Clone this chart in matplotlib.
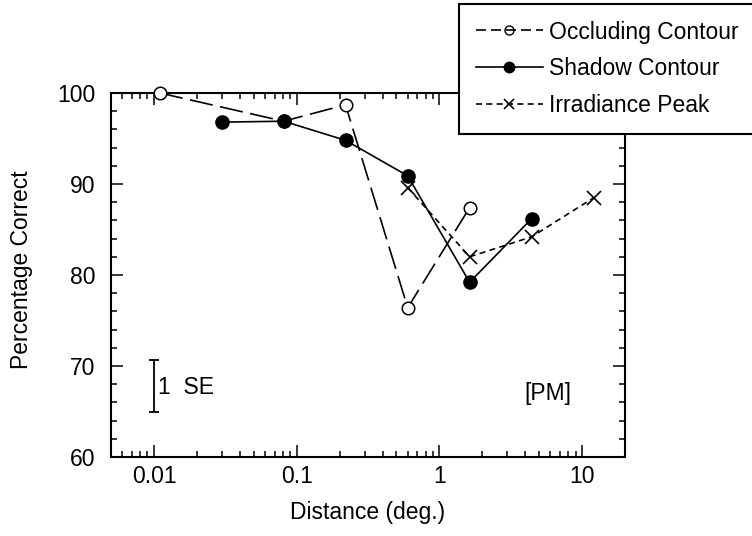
import matplotlib
matplotlib.use("Agg")
import matplotlib.pyplot as plt
from matplotlib.lines import Line2D
from matplotlib.ticker import FixedLocator, LogLocator, MultipleLocator, NullFormatter

plt.rcParams['font.family'] = ['Liberation Sans', 'DejaVu Sans']

# ---- data ----
occ_x = [0.011, 0.081, 0.22, 0.60, 1.63]
occ_y = [100.0, 96.9, 98.7, 76.4, 87.4]
sha_x = [0.030, 0.081, 0.22, 0.60, 1.63, 4.44]
sha_y = [96.8, 96.9, 94.8, 90.9, 79.2, 86.2]
irr_x = [0.60, 1.63, 4.44, 12.1]
irr_y = [89.6, 82.0, 84.2, 88.5]
labels = ["Occluding Contour", "Shadow Contour", "Irradiance Peak"]
xticks = [0.01, 0.1, 1, 10]
xticklabels = ["0.01", "0.1", "1", "10"]
yticks = [60, 70, 80, 90, 100]
se_x = 0.01
se_center = 67.85
se_half = 2.85

FS = 16.5

fig = plt.figure(figsize=(7.52, 5.36), dpi=100)
ax = fig.add_axes([111/752, 1-457/536, 514/752, 364/536])

occ_ls = (0, (14, 4.5))
irr_ls = (0, (3.6, 2.6))

ax.plot(occ_x, occ_y, color='black', lw=1.2, ls=occ_ls, marker='o', ms=9,
        mfc='white', mec='black', mew=1.1, clip_on=False, zorder=3)
ax.plot(sha_x, sha_y, color='black', lw=1.2, ls='-', marker='o', ms=9.5,
        mfc='black', mec='black', clip_on=False, zorder=4)
ax.plot(irr_x, irr_y, color='black', lw=1.2, ls=irr_ls, marker='x', ms=9.5,
        mew=1.2, mec='black', clip_on=False, zorder=3)

# SE bar
ax.errorbar([se_x], [se_center], yerr=[se_half], fmt='none', ecolor='black',
            elinewidth=1.3, capsize=3.5, capthick=1.3)
ax.text(0.0106, 67.6, "1  SE", fontsize=FS, va='center', ha='left',
        family=['Liberation Sans Narrow', 'Liberation Sans', 'DejaVu Sans'],
        fontstretch='condensed')
ax.text(5.8, 67.0, "[PM]", fontsize=FS, va='center', ha='center')

ax.set_xscale('log')
ax.set_xlim(0.005, 20)
ax.set_ylim(60, 100)

ax.xaxis.set_major_locator(FixedLocator(xticks))
ax.set_xticklabels(xticklabels)
ax.xaxis.set_minor_locator(LogLocator(base=10, subs=range(2, 10)))
ax.xaxis.set_minor_formatter(NullFormatter())
ax.yaxis.set_major_locator(FixedLocator(yticks))
ax.yaxis.set_minor_locator(MultipleLocator(2))

for s in ax.spines.values():
    s.set_linewidth(1.5)

ax.tick_params(which='both', direction='in', top=True, right=True, width=1.1,
               labelsize=FS)
ax.tick_params(which='major', length=8.5)
ax.tick_params(which='minor', length=4.5)
ax.tick_params(axis='x', which='major', pad=6)
ax.tick_params(axis='y', which='major', pad=11.5)

ax.set_xlabel("Distance (deg.)", fontsize=FS)
ax.set_ylabel("Percentage Correct", fontsize=FS)
ax.xaxis.set_label_coords(0.5, -0.12)
ax.yaxis.set_label_coords(-0.152, 0.514)

handles = [
    Line2D([], [], color='black', lw=1.2, ls=(0, (6, 3)), marker='o', ms=6.5,
           mfc='none', mec='black', mew=1.0),
    Line2D([], [], color='black', lw=1.2, ls='-', marker='o', ms=7.5,
           mfc='black', mec='black'),
    Line2D([], [], color='black', lw=1.2, ls=(0, (3.6, 2.6)), marker='x', ms=7.5,
           mew=1.2, mec='black'),
]
leg = fig.legend(handles, labels, loc='upper left',
                 bbox_to_anchor=(459/752, 1-4/536), bbox_transform=fig.transFigure,
                 borderaxespad=0, frameon=True, fancybox=False, framealpha=1,
                 edgecolor='black', fontsize=FS, handlelength=2.95,
                 handletextpad=0.25, borderpad=0.72, labelspacing=0.6)
leg.get_frame().set_linewidth(1.5)

fig.savefig("out.png", dpi=100)
